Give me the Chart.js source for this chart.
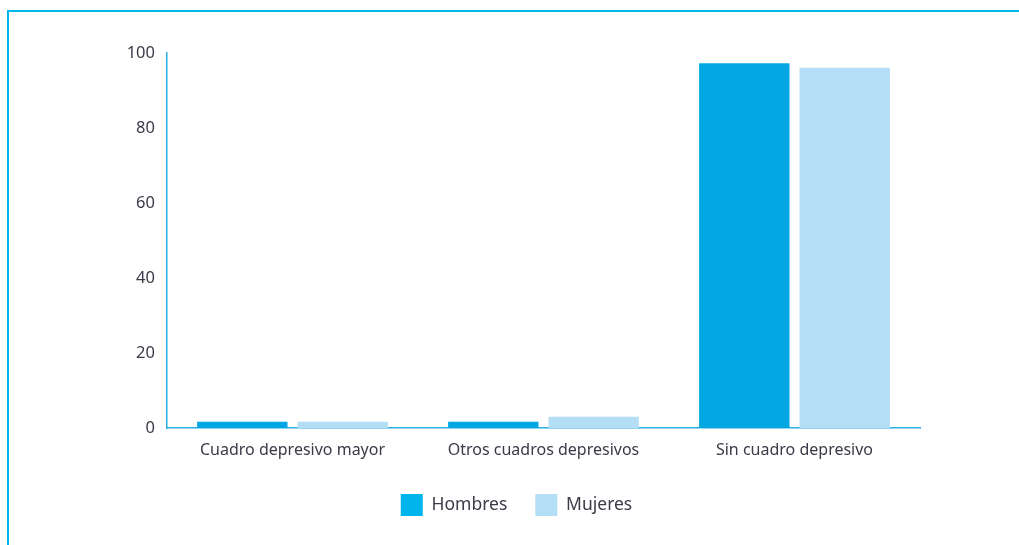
<!DOCTYPE html>
<html>
<head>
<meta charset="utf-8">
<script src="https://cdn.jsdelivr.net/npm/chart.js@4/dist/chart.umd.min.js"></script>
<style>
  html, body { margin: 0; padding: 0; background: #fff; }
  #wrap { position: relative; width: 1019px; height: 545px; overflow: hidden; }
  #frame { position: absolute; left: 7px; top: 10px; right: -10px; bottom: -10px;
           border-top: 2px solid #00b5ec; border-left: 2px solid #00b5ec; }
  canvas { position: absolute; left: 0; top: 0; }
</style>
</head>
<body>
<div id="wrap">
  <div id="frame"></div>
  <canvas id="chart" width="1019" height="545"></canvas>
</div>
<script>
// categorías y valores (%)
const categories = ["Cuadro depresivo mayor", "Otros cuadros depresivos", "Sin cuadro depresivo"];
const hombres = [1.7, 1.7, 97.3];
const mujeres = [1.7, 3.0, 96.1];
const yTicks = [0, 20, 40, 60, 80, 100];

const textColor = "#3a3a48";
const axisColor = "#29aee6";
const font = "'Noto Sans', sans-serif";

const ctx = document.getElementById("chart").getContext("2d");

new Chart(ctx, {
  type: "bar",
  data: {
    labels: categories,
    datasets: [
      { label: "Hombres", data: hombres, backgroundColor: "#00a7e3", borderWidth: 0 },
      { label: "Mujeres", data: mujeres, backgroundColor: "#b4def5", borderWidth: 0 }
    ]
  },
  options: {
    responsive: false,
    animation: false,
    layout: { padding: { top: 53, right: 0, left: 14, bottom: 19 } },
    plugins: {
      tooltip: { enabled: false },
      legend: {
        position: "bottom",
        labels: {
          boxWidth: 22,
          boxHeight: 22,
          padding: 28,
          color: textColor,
          font: { family: font, size: 17.5 },
          generateLabels: chart => chart.data.datasets.map((d, i) => ({
            text: d.label,
            fillStyle: i === 0 ? "#00b4ec" : "#b4def5",
            strokeStyle: "transparent",
            lineWidth: 0,
            datasetIndex: i,
            fontColor: textColor
          }))
        }
      }
    },
    scales: {
      x: {
        grid: { display: false, drawTicks: false },
        border: { display: true, color: axisColor, width: 1.5 },
        ticks: { color: textColor, font: { family: font, size: 16 }, padding: 13, maxRotation: 0 },
        afterFit: s => { s.height = 38; }
      },
      y: {
        min: 0,
        max: 100,
        afterBuildTicks: s => { s.ticks = yTicks.map(v => ({ value: v })); },
        grid: { display: false, drawTicks: false },
        border: { display: true, color: axisColor, width: 1.5 },
        ticks: { color: textColor, font: { family: font, size: 16.5 }, padding: 12 },
        afterFit: s => { s.width = 153; }
      },
      // eje vacío a la derecha, solo para dejar el margen
      yRight: {
        position: "right",
        grid: { display: false, drawTicks: false },
        border: { display: false },
        ticks: { display: false },
        afterFit: s => { s.width = 99; }
      }
    }
  }
});
</script>
</body>
</html>
